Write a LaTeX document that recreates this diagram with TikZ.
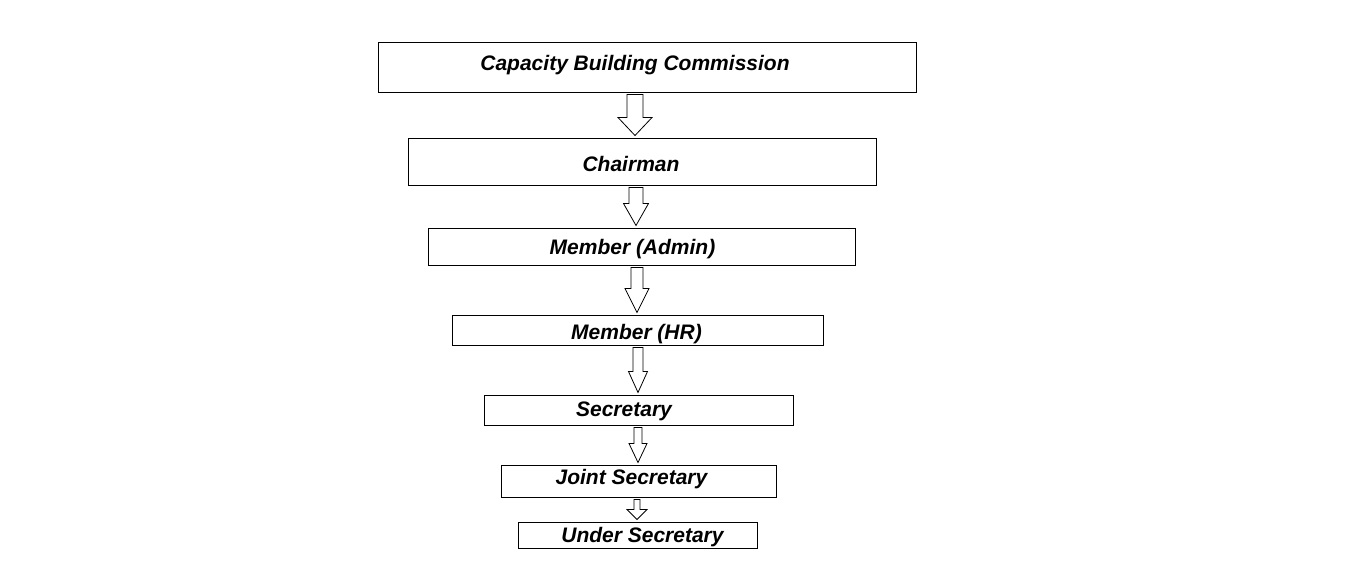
\documentclass[tikz,border=0pt]{standalone}
\usepackage{fontspec}
\setmainfont{Liberation Sans}
\usetikzlibrary{positioning}
\usetikzlibrary{calc}
\tikzset{	rank/.style={
		draw,
		line width=1pt,
		inner sep=0pt,
		font=\bfseries\itshape\fontsize{21}{25}\selectfont,
		text height=15pt,
		text depth=0pt},
	nudge/.style={execute at begin node={\hspace*{#1}}}, % shifts the label by #1/2
	flowline/.style={
		draw,
		line width=0.8pt,
		fill=white}
}
\newcommand{\flow}[6]{%
	\draw[flowline] let \p1=(#1.south), \p2=(#2.north) in
		(#3-#4/2,\y1-2pt) -- (#3-#4/2,\y2+2pt+#6) -- (#3-#5/2,\y2+2pt+#6) -- (#3,\y2+2pt)
		-- (#3+#5/2,\y2+2pt+#6) -- (#3+#4/2,\y2+2pt+#6) -- (#3+#4/2,\y1-2pt) -- cycle;}

\begin{document}
\begin{tikzpicture}
			\useasboundingbox (0,0) rectangle (1358pt,-565pt);
			\node[rank, minimum width=538pt, minimum height=50pt, text height=7.4pt, nudge=-24pt] (cbc) at (647pt,-67pt) {Capacity Building Commission};
			\node[rank, minimum width=468pt, minimum height=47pt, text height=19pt, nudge=-22pt, below=45pt of cbc, xshift=-5pt] (chair) {Chairman};
			\node[rank, minimum width=427pt, minimum height=37pt, text height=16.4pt, nudge=-19pt, below=42pt of chair] (admin) {Member (Admin)};
			\node[rank, minimum width=371pt, minimum height=30pt, text height=18pt, nudge=-3pt, below=49pt of admin, xshift=-4pt] (hr) {Member (HR)};
			\node[rank, minimum width=309pt, minimum height=30pt, text height=12pt, nudge=-30pt, below=49pt of hr, xshift=1pt] (secy) {Secretary};
			\node[rank, minimum width=275pt, minimum height=32pt, text height=7.4pt, nudge=-15pt, below=39pt of secy] (jsecy) {Joint Secretary};
			\node[rank, minimum width=239pt, minimum height=26pt, text height=14pt, nudge=9pt, below=24pt of jsecy, xshift=-1pt] (usecy) {Under Secretary};
			\flow{cbc}{chair}{635pt}{16pt}{34pt}{18pt}
			\flow{chair}{admin}{636pt}{14pt}{25pt}{22pt}
			\flow{admin}{hr}{637pt}{12pt}{24pt}{24pt}
			\flow{hr}{secy}{638pt}{10pt}{19pt}{21pt}
			\flow{secy}{jsecy}{638pt}{8pt}{18pt}{19pt}
			\flow{jsecy}{usecy}{637pt}{6pt}{20pt}{10pt}
		\end{tikzpicture}
\end{document}
